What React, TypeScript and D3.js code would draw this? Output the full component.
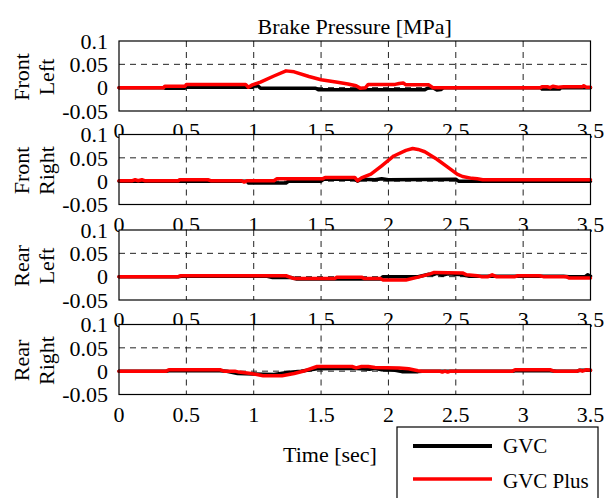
import React from "react";
import * as d3 from "d3";

const panelNames: string[][] = [["Front", "Left"], ["Front", "Right"], ["Rear", "Left"], ["Rear", "Right"]];
const xTicks = [0, 0.5, 1, 1.5, 2, 2.5, 3, 3.5];
const xTickLabels = ["0", "0.5", "1", "1.5", "2", "2.5", "3", "3.5"];
const yTicks = [0.1, 0.05, 0, -0.05];
const yTickLabels = ["0.1", "0.05", "0", "-0.05"];
const legendLabels = ["GVC", "GVC Plus"];

// [time (s), pressure (MPa)]
const gvcFL: [number, number][] = [
  [0, 0], [0.33, 0], [0.34, -0.001], [0.49, -0.001], [0.5, 0.001], [0.99, 0.001], [1.0, 0.004], [1.03, 0.004],
  [1.05, -0.001], [1.46, -0.001], [1.48, -0.0045], [2.27, -0.0045], [2.29, -0.001], [2.33, 0], [2.36, -0.005],
  [2.39, -0.004], [2.41, 0], [3.13, 0], [3.14, -0.003], [3.27, -0.003], [3.28, 0], [3.5, 0],
];
const plusFL: [number, number][] = [
  [0, 0], [0.33, 0], [0.34, 0.003], [0.49, 0.003], [0.5, 0.007], [0.94, 0.007], [0.96, 0.001], [0.99, 0.006],
  [1.05, 0.012], [1.15, 0.025], [1.24, 0.036], [1.3, 0.034], [1.41, 0.024], [1.5, 0.017], [1.61, 0.012],
  [1.7, 0.008], [1.76, 0.004], [1.79, -0.001], [1.83, 0], [1.85, 0.007], [2.05, 0.007], [2.08, 0.009],
  [2.11, 0.01], [2.13, 0.006], [2.3, 0.006], [2.33, 0], [3.13, 0], [3.14, 0.002], [3.18, 0.002], [3.2, 0],
  [3.22, 0.003], [3.26, 0.001], [3.3, 0.002], [3.44, 0.002], [3.45, 0.004], [3.47, 0.001], [3.5, 0.001],
];
const gvcFR: [number, number][] = [
  [0, 0], [0.95, 0], [0.96, -0.004], [1.24, -0.004], [1.26, 0], [1.5, 0], [1.52, 0.004], [1.75, 0.004],
  [1.77, 0], [1.8, 0.004], [1.9, 0.003], [1.95, 0.005], [2.0, 0.003], [2.5, 0.004], [2.52, 0], [3.5, 0],
];
const plusFR: [number, number][] = [
  [0, 0.001], [0.1, 0.001], [0.12, 0.003], [0.14, 0.001], [0.17, 0.003], [0.19, 0.001], [0.44, 0.001],
  [0.45, 0.003], [0.66, 0.003], [0.68, 0.001], [0.91, 0.001], [0.93, -0.002], [0.95, 0.001], [1.15, 0.001],
  [1.17, 0.005], [1.51, 0.005], [1.53, 0.008], [1.75, 0.008], [1.77, 0.001], [1.8, 0.007], [1.87, 0.015],
  [1.95, 0.033], [2.04, 0.054], [2.13, 0.066], [2.18, 0.07], [2.22, 0.068], [2.27, 0.063], [2.36, 0.047],
  [2.44, 0.03], [2.51, 0.015], [2.55, 0.01], [2.62, 0.006], [2.66, 0.005], [2.7, 0.003], [3.5, 0.003],
];
const gvcRL: [number, number][] = [
  [0, 0], [0.44, 0], [0.46, 0.001], [1.1, 0.001], [1.14, -0.002], [1.28, -0.002], [1.32, -0.005],
  [1.94, -0.005], [1.96, 0], [2.22, 0], [2.3, 0.005], [2.33, 0.004], [2.36, 0.007], [2.4, 0.003],
  [2.44, 0.006], [2.55, 0.004], [2.6, 0.001], [3.3, 0.001], [3.34, 0], [3.46, 0], [3.48, 0.004], [3.5, 0.001],
];
const plusRL: [number, number][] = [
  [0, 0], [0.44, 0], [0.46, 0.002], [1.24, 0.002], [1.3, -0.004], [1.6, -0.004], [1.62, -0.001], [1.8, -0.001],
  [1.82, -0.004], [1.94, -0.004], [1.96, -0.007], [2.13, -0.007], [2.22, -0.001], [2.31, 0.006], [2.34, 0.009],
  [2.55, 0.008], [2.58, 0.004], [2.66, 0.002], [2.69, 0], [2.74, 0], [2.77, 0.004], [2.8, 0], [2.94, 0],
  [2.96, 0.002], [3.12, 0.002], [3.15, 0], [3.32, 0], [3.34, -0.003], [3.5, -0.003],
];
const gvcRR: [number, number][] = [
  [0, 0], [0.35, 0], [0.37, 0.001], [0.75, 0.001], [0.8, 0], [0.88, -0.005], [1.0, -0.006], [1.15, -0.007],
  [1.25, -0.003], [1.35, 0], [1.47, 0.005], [1.73, 0.006], [1.86, 0.004], [1.9, 0.006], [1.95, 0.003],
  [2.05, 0.002], [2.1, -0.001], [2.22, -0.001], [2.25, 0], [2.92, 0], [2.94, 0.001], [3.2, 0.001],
  [3.25, 0], [3.4, 0], [3.42, 0.002], [3.5, 0.002],
];
const plusRR: [number, number][] = [
  [0, 0], [0.35, 0], [0.37, 0.003], [0.75, 0.003], [0.78, 0], [0.86, 0], [0.89, -0.002], [0.98, -0.005],
  [1.07, -0.01], [1.21, -0.01], [1.3, -0.005], [1.38, 0.001], [1.47, 0.01], [1.73, 0.01], [1.76, 0.007],
  [1.8, 0.01], [1.85, 0.01], [1.9, 0.008], [2.08, 0.007], [2.15, 0.005], [2.22, 0.001], [2.25, 0],
  [2.38, 0], [2.4, -0.002], [2.42, 0], [2.44, -0.002], [2.46, 0], [2.92, 0], [2.94, 0.003], [3.2, 0.003],
  [3.23, 0], [3.4, 0], [3.42, 0.002], [3.44, 0], [3.47, 0.003], [3.5, 0.002],
];

const gvcSeries = [gvcFL, gvcFR, gvcRL, gvcRR];
const plusSeries = [plusFL, plusFR, plusRL, plusRR];

const FONT = "'Liberation Serif', 'Times New Roman', serif";
const W = 607;
const H = 498;
const LEFT = 119;
const RIGHT = 590.5;
const PANEL_TOPS = [41, 134.5, 230, 324.5];
const PANEL_H = 70;

export default function App() {
  const x = d3.scaleLinear().domain([0, 3.5]).range([LEFT, RIGHT]);
  return (
    <svg width={W} height={H} style={{ position: "absolute", left: 0, top: 0, background: "#fff" }}
      fontFamily={FONT}>
      <rect x={0} y={0} width={W} height={H} fill="#fff" />
      <text x={(LEFT + RIGHT) / 2} y={34} textAnchor="middle" fontSize={22}>Brake Pressure [MPa]</text>
      {PANEL_TOPS.map((top, i) => {
        const y = d3.scaleLinear().domain([-0.05, 0.1]).range([top + PANEL_H, top]);
        const line = d3.line<[number, number]>().x((d) => x(d[0])).y((d) => y(d[1]));
        const cy = top + PANEL_H / 2 + 1;
        return (
          <g key={i}>
            <rect x={LEFT} y={top} width={RIGHT - LEFT} height={PANEL_H} fill="#fff" />
            {xTicks.slice(1, -1).map((t) => (
              <line key={"gx" + t} x1={x(t)} x2={x(t)} y1={top} y2={top + PANEL_H}
                stroke="#222" strokeWidth={1} strokeDasharray="6,5" />
            ))}
            {[0.05, 0].map((v) => (
              <line key={"gy" + v} x1={LEFT} x2={RIGHT} y1={y(v)} y2={y(v)}
                stroke="#222" strokeWidth={1} strokeDasharray="6,5" />
            ))}
            <path d={line(gvcSeries[i]) || ""} fill="none" stroke="#000" strokeWidth={3.5}
              strokeLinejoin="round" strokeLinecap="round" />
            <path d={line(plusSeries[i]) || ""} fill="none" stroke="#ff0000" strokeWidth={3.5}
              strokeLinejoin="round" strokeLinecap="round" />
            <rect x={LEFT} y={top} width={RIGHT - LEFT} height={PANEL_H} fill="none" stroke="#000" strokeWidth={1.2} />
            {yTicks.map((v, k) => (
              <text key={"yt" + v} x={108} y={y(v)} dy="0.35em" textAnchor="end" fontSize={22}>{yTickLabels[k]}</text>
            ))}
            {xTicks.map((t, k) => (
              <text key={"xt" + t} x={x(t)} y={top + PANEL_H + 27} textAnchor="middle" fontSize={22}>{xTickLabels[k]}</text>
            ))}
            <text transform={`translate(28.5, ${cy}) rotate(-90)`} textAnchor="middle" fontSize={22}>{panelNames[i][0]}</text>
            <text transform={`translate(53.5, ${cy}) rotate(-90)`} textAnchor="middle" fontSize={22}>{panelNames[i][1]}</text>
          </g>
        );
      })}
      <text x={330} y={462} textAnchor="middle" fontSize={22}>Time [sec]</text>
      <g>
        <rect x={397} y={427} width={201} height={90} fill="#fff" stroke="#000" strokeWidth={1.2} />
        <line x1={413} x2={492} y1={446} y2={446} stroke="#000" strokeWidth={4} />
        <line x1={413} x2={492} y1={479} y2={479} stroke="#ff0000" strokeWidth={3.5} />
        <text x={503} y={453} fontSize={21}>{legendLabels[0]}</text>
        <text x={503} y={488} fontSize={21}>{legendLabels[1]}</text>
      </g>
    </svg>
  );
}
